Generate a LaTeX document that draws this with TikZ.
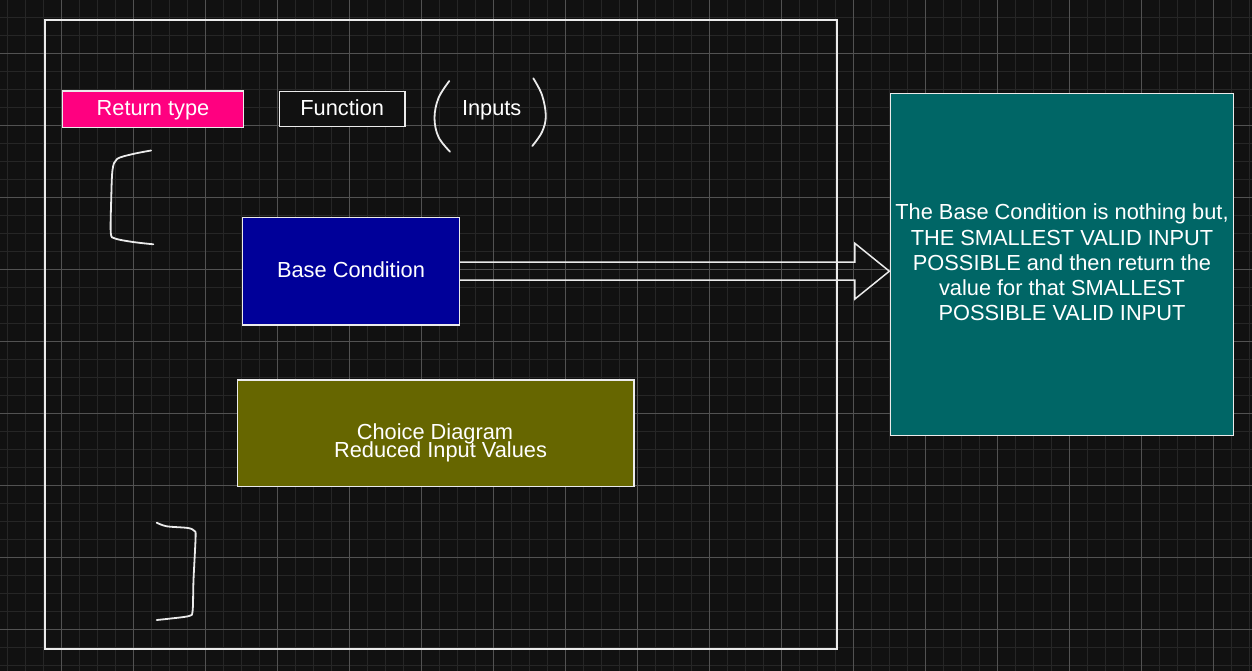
\documentclass[tikz,border=0pt]{standalone}
\usepackage{fontspec}
\setmainfont{Liberation Sans}
\usetikzlibrary{calc}
\definecolor{bgc}{RGB}{17,17,17}
\definecolor{gridminor}{RGB}{38,38,38}
\definecolor{gridmajor}{RGB}{82,82,82}
\definecolor{pinkc}{RGB}{255,0,128}
\definecolor{bluec}{RGB}{0,0,153}
\definecolor{olivec}{RGB}{102,102,0}
\definecolor{tealc}{RGB}{0,102,102}
\definecolor{linec}{RGB}{235,235,235}
\tikzset{
  txt/.style={font=\fontsize{21.8}{25.2}\selectfont, text=white, inner sep=0pt},
  box/.style={txt, draw=linec, line width=1.5pt, rectangle, text height=16pt, text depth=2.6pt},
  framebox/.style={draw=linec, line width=2pt, rectangle, inner sep=0pt},
  hand/.style={draw=linec, line width=1.8pt, line cap=round, line join=round},
  arrowline/.style={draw=linec, line width=1.5pt, line join=miter},
  minorline/.style={draw=gridminor, line width=1pt},
  majorline/.style={draw=gridmajor, line width=1pt}
}
\begin{document}
\begin{tikzpicture}[x=1pt,y=-1pt]
% background and grid
\fill[bgc] (0,0) rectangle (1252,671);
\useasboundingbox (0,0) rectangle (1252,671);
\foreach \i in {0,...,69} {\draw[minorline] ({7+18*\i},0) -- ({7+18*\i},671);}
\foreach \i in {0,...,36} {\draw[minorline] (0,{17.3+18*\i}) -- (1252,{17.3+18*\i});}
\foreach \i in {0,...,16} {\draw[majorline] ({61+72*\i},0) -- ({61+72*\i},671);}
\foreach \i in {0,...,8} {\draw[majorline] (0,{53.3+72*\i}) -- (1252,{53.3+72*\i});}

% outer frame
\node[framebox, minimum width=791.7pt, minimum height=629pt] (frame) at (440.85,334.2) {};

% top row
\node[box, fill=pinkc, minimum width=180.6pt, minimum height=36.5pt] (ret) at (153,109.3) {Return type};
\node[box, fill=bgc, minimum width=125.7pt, minimum height=35pt] (func) at (342.2,108.8) {Function};
\node[txt, anchor=base] (inputs) at (491.7,115.3) {Inputs};
\draw[hand] plot[smooth, tension=0.6] coordinates {(449.3,81) (438.5,98) (434.5,118) (438.5,137) (450,151.7)};
\draw[hand] plot[smooth, tension=0.6] coordinates {(533.3,78.3) (542,95) (545.8,116) (542,132) (532.3,146)};

% brackets
\draw[hand] plot[smooth, tension=0.5] coordinates {(151,150.5) (133,154) (117,159) (112.5,170) (111.2,200) (110.8,233) (115,238.5) (133,242) (153.3,244.3)};
\draw[hand] plot[smooth, tension=0.5] coordinates {(156.7,522.7) (166.7,526.3) (188,528) (194.5,531) (195.6,537) (193.5,580) (192.6,611) (189,616) (170,618.6) (156.7,620)};

% base condition
\node[box, fill=bluec, minimum width=216.6pt, minimum height=107.7pt] (base) at (351,271.2) {Base Condition};

% choice diagram
\node[box, fill=olivec, minimum width=396.3pt, minimum height=106.7pt] (choice) at (435.8,433.3) {};
\node[txt, anchor=base] (choice1) at (435,439) {Choice Diagram};
\node[txt, anchor=base] (choice2) at (440.5,457.3) {Reduced Input Values};

% teal explanation box
\node[box, fill=tealc, minimum width=342.6pt, minimum height=342pt] (teal) at (1062,264.3) {};
\node[txt, align=center] (tealtext) at (1062,262.6) {The Base Condition is nothing but,\\THE SMALLEST VALID INPUT\\POSSIBLE and then return the\\value for that SMALLEST\\POSSIBLE VALID INPUT};

% block arrow
\coordinate (tip) at ($(teal.west |- base.east)+(-0.6,0)$);
\draw[arrowline] ($(base.east)+(0,-9)$) -- ($(tip)+(-34.4,-9)$) -- ($(tip)+(-34.4,-27.8)$) -- (tip) -- ($(tip)+(-34.4,27.8)$) -- ($(tip)+(-34.4,9)$) -- ($(base.east)+(0,9)$);
\end{tikzpicture}
\end{document}
